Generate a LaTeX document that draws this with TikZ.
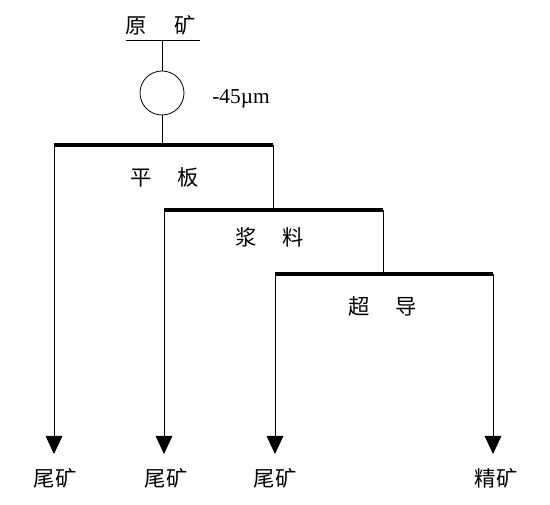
\documentclass[tikz,border=0pt]{standalone}
\usepackage{fontspec}
\newfontfamily\cjk{Noto Sans CJK SC}
\newfontfamily\latinfont{Liberation Serif}
\usetikzlibrary{positioning,arrows.meta}
\tikzset{
  bar/.style={line width=2.4pt},
  pipe/.style={line width=0.6pt},
  product/.style={line width=0.6pt, -{Triangle[length=13.5pt,width=12.5pt]}},
  label/.style={font=\cjk\fontsize{16}{18}\selectfont, inner sep=0pt},
}

\begin{document}
\begin{tikzpicture}[x=0.75pt, y=-0.75pt]
    \useasboundingbox (0,0) rectangle (550,505);
    % feed
    \node[label] (feed) at (161,25) {原\hspace{1.3em}矿};
    \coordinate (feed_l) at (126,40);
    \coordinate (feed_r) at (200,40);
    \coordinate (feed_mid) at (162,40);
    % screen
    \node[draw, circle, pipe, minimum size=33pt, inner sep=0pt] (screen) at (162,93) {};
    \node[font=\latinfont\fontsize{16}{18}\selectfont, inner sep=0pt] (size) at (241,99) {-45µm};
    % table
    \coordinate (table_l) at (54,145);
    \coordinate (table_r) at (273,145);
    \coordinate (table_in) at (162,145);
    \node[label] (table) at (165,177) {平\hspace{1.2em}板};
    % slurry
    \coordinate (slurry_l) at (164,210);
    \coordinate (slurry_r) at (383,210);
    \coordinate (slurry_in) at (273,210);
    \node[label] (slurry) at (270,237) {浆\hspace{1.2em}料};
    % superconducting
    \coordinate (sc_l) at (275,274);
    \coordinate (sc_r) at (493,274);
    \coordinate (sc_in) at (383,274);
    \node[label] (sc) at (383,306) {超\hspace{1.2em}导};
    % products
    \node[label] (tail1) at (55,478) {尾矿};
    \node[label] (tail2) at (166,478) {尾矿};
    \node[label] (tail3) at (275,478) {尾矿};
    \node[label] (conc) at (496,478) {精矿};
    \coordinate (tail1_t) at (54,454);
    \coordinate (tail2_t) at (164,454);
    \coordinate (tail3_t) at (275,454);
    \coordinate (conc_t) at (493,454);
    % draw lines
    \draw[pipe] (feed_l) -- (feed_r);
    \draw[pipe] (feed_mid) -- (screen.north);
    \draw[pipe] (screen.south) -- (table_in);
    \draw[bar] (table_l) -- (table_r);
    \draw[pipe] (table_r) -- (slurry_in);
    \draw[bar] (slurry_l) -- (slurry_r);
    \draw[pipe] (slurry_r) -- (sc_in);
    \draw[bar] (sc_l) -- (sc_r);
    % draw products
    \draw[product] (table_l) -- (tail1_t);
    \draw[product] (slurry_l) -- (tail2_t);
    \draw[product] (sc_l) -- (tail3_t);
    \draw[product] (sc_r) -- (conc_t);
\end{tikzpicture}
\end{document}
